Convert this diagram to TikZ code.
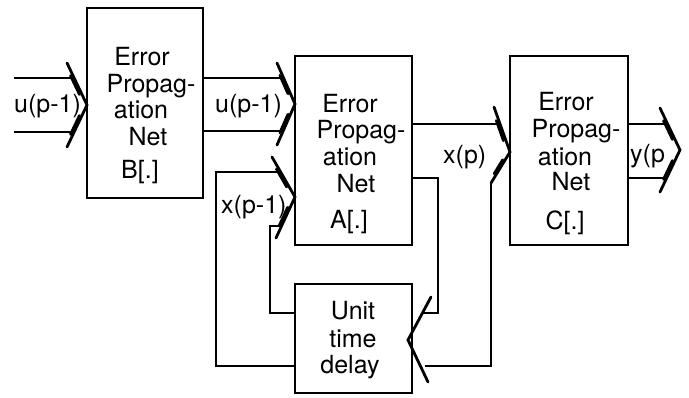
\documentclass[tikz,border=0pt]{standalone}
\usepackage{fontspec}
\setmainfont{TeX Gyre Heros}
\usetikzlibrary{calc}
\tikzset{
  blk/.style={draw, line width=2.8pt, minimum width=#1, inner sep=0pt},
  txt/.style={anchor=base, inner sep=0pt, font=\fontsize{25}{27}\selectfont},
  lbl/.style={anchor=base west, inner sep=0pt, font=\fontsize{25}{27}\selectfont},
  wire/.style={line width=2.8pt},
  chev/.style={line width=2.8pt, line cap=round}
}
\newcommand{\chevR}[3]{%
  \draw[chev] (#2) -- (#1) -- (#3);
  \draw[chev] ([xshift=-2.5pt]$(#2)!0.3!(#1)$) -- ([xshift=-2.5pt]$(#2)!0.75!(#1)$);
  \draw[chev] ([xshift=-2.5pt]$(#1)!0.25!(#3)$) -- ([xshift=-2.5pt]$(#1)!0.7!(#3)$);
}
\begin{document}
\begin{tikzpicture}[x=1pt,y=-1pt]
\useasboundingbox (0,0) rectangle (689,397);
% boxes
\node[blk=116pt, minimum height=190pt] (B) at (145,103) {};
\node[blk=117pt, minimum height=189pt] (A) at (353.5,150.5) {};
\node[blk=118pt, minimum height=189pt] (C) at (569,150.5) {};
\node[blk=117pt, minimum height=109pt] (D) at (353.5,338.5) {};
% box texts
\node[txt] (b1) at (142,65) {Error};
\node[txt] (b2) at (151,92) {Propag-};
\node[txt] (b3) at (141,118) {ation};
\node[txt] (b4) at (148,145) {Net};
\node[txt] (b5) at (140,178) {B[.]};
\node[txt] (a1) at (350,112) {Error};
\node[txt] (a2) at (361,138) {Propag-};
\node[txt] (a3) at (350,165) {ation};
\node[txt] (a4) at (356,192) {Net};
\node[txt] (a5) at (349,228) {A[.]};
\node[txt] (c1) at (566,110) {Error};
\node[txt] (c2) at (576,137) {Propag-};
\node[txt] (c3) at (565,165) {ation};
\node[txt] (c4) at (571,190) {Net};
\node[txt] (c5) at (565,229) {C[.]};
\node[txt] (d1) at (353,319) {Unit};
\node[txt] (d2) at (353,347) {time};
\node[txt] (d3) at (350,373) {delay};
% signal labels
\node[lbl] (l1) at (14,112) {u(p-1)};
\node[lbl] (l2) at (215,112) {u(p-1)};
\node[lbl] (l3) at (221,213) {x(p-1)};
\node[lbl] (l4) at (443,163) {x(p)};
\node[lbl] (l5) at (630,162) {y(p};
% chevron coordinates
\coordinate (t1) at (87,105);  \coordinate (u1) at (67,63);  \coordinate (w1) at (67,147);
\coordinate (t2) at (295,104); \coordinate (u2) at (277,63); \coordinate (w2) at (277,145);
\coordinate (t3) at (295,197); \coordinate (u3) at (272,157); \coordinate (w3) at (276,238);
\coordinate (t4) at (510,152); \coordinate (u4) at (494,107); \coordinate (w4) at (491,183);
\coordinate (t5) at (680,150); \coordinate (u5) at (660,108); \coordinate (w5) at (660,192);
\coordinate (t6) at (408,340); \coordinate (u6) at (431,297); \coordinate (w6) at (428,382);
\chevR{t1}{u1}{w1}
\chevR{t2}{u2}{w2}
\chevR{t3}{u3}{w3}
\chevR{t4}{u4}{w4}
\chevR{t5}{u5}{w5}
\draw[chev] (u6) -- (t6) -- (w6);
% wire end coordinates
\coordinate (s1) at (14,78);  \coordinate (e1) at (74,78);
\coordinate (s2) at (14,132); \coordinate (e2) at (73,132);
\coordinate (e3) at (283,78); \coordinate (e4) at (283,131);
\coordinate (e5) at (499,124);
\coordinate (e6) at (422,313);
\coordinate (e7) at (425,366);
\coordinate (e8) at (281,226);
\coordinate (e9) at (281,172);
\coordinate (e10) at (667,124); \coordinate (e11) at (666,178);
% wires
\draw[wire] (s1) -- (e1);
\draw[wire] (s2) -- (e2);
\draw[wire] (B.east |- e3) -- (e3);
\draw[wire] (B.east |- e4) -- (e4);
\draw[wire] (A.east |- e5) -- (e5);
\draw[wire] (A.east |- 0,178) -- (438,178) -- (438,313) -- (e6);
\draw[wire] (w4) -- (491,366) -- (e7);
\draw[wire] (D.west |- 0,313) -- (270,313) -- (270,226) -- (e8);
\draw[wire] (D.west |- 0,366) -- (216,366) -- (216,172) -- (e9);
\draw[wire] (C.east |- e10) -- (e10);
\draw[wire] (C.east |- e11) -- (e11);
\end{tikzpicture}
\end{document}
